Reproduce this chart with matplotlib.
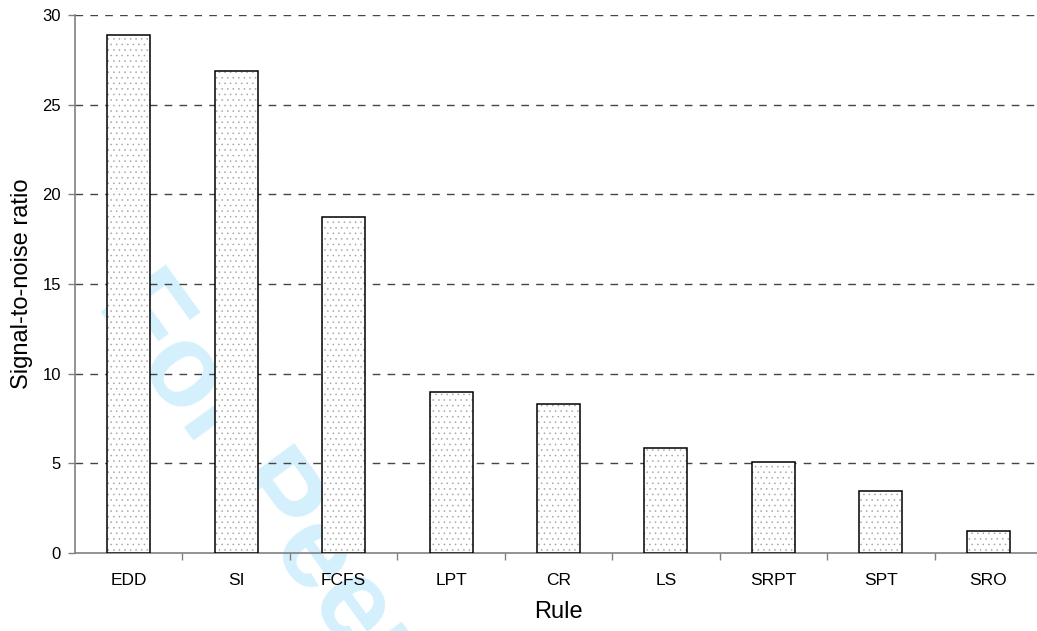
import numpy as np
import matplotlib.pyplot as plt

plt.rcParams['font.family'] = ['Liberation Sans', 'DejaVu Sans']
plt.rcParams['hatch.linewidth'] = 0.35

rules = ['EDD', 'SI', 'FCFS', 'LPT', 'CR', 'LS', 'SRPT', 'SPT', 'SRO']
snr = [28.9, 26.9, 18.75, 9.0, 8.3, 5.85, 5.06, 3.45, 1.2]
yticks = [0, 5, 10, 15, 20, 25, 30]

fig = plt.figure(figsize=(10.37, 6.31), dpi=100)
ax = fig.add_axes([75/1037, 1-553/631, (1042-75)/1037, (553-15)/631])
ax.patch.set_alpha(0)

# watermark behind everything
fig.text(95/1037, 1-305/631, 'For Peer Review', fontsize=84, fontweight='bold',
         color='#d4f0fc', rotation=-54, rotation_mode='anchor',
         ha='left', va='baseline', zorder=-5)

x = np.arange(len(rules))
# dotted fill (hatch takes the edge colour), then black outline on top
ax.bar(x, snr, width=0.4, color='white', edgecolor='#a0a0a0', linewidth=0,
       hatch='...', zorder=3)
ax.bar(x, snr, width=0.4, fill=False, edgecolor='black', linewidth=1.1, zorder=4)

ax.set_xlim(-0.5, len(rules) - 0.5)
ax.set_ylim(0, 30)
ax.set_yticks(yticks)
ax.set_xticks(x)
ax.set_xticklabels(rules, fontsize=12.5)
ax.set_xticks(x[:-1] + 0.5, minor=True)
ax.tick_params(axis='x', which='major', length=0, pad=14.5)
ax.tick_params(axis='x', which='minor', length=5, color='#808080', width=1)
ax.tick_params(axis='y', length=5, color='#808080', width=1, pad=5, labelsize=12)

for ty in yticks[1:]:
    ax.axhline(ty, color='#454545', lw=1, ls=(0, (5.5, 5.2)), zorder=2)

for s in ['top', 'right']:
    ax.spines[s].set_visible(False)
for s in ['left', 'bottom']:
    ax.spines[s].set_color('#808080')
    ax.spines[s].set_linewidth(1.2)

ax.set_xlabel('Rule', fontsize=17, labelpad=9)
ax.set_ylabel('Signal-to-noise ratio', fontsize=17, labelpad=7)

fig.savefig('out.png', dpi=100)
